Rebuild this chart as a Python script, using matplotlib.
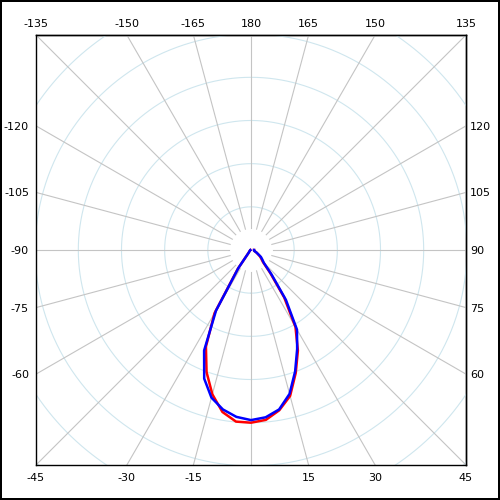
import matplotlib
matplotlib.use("Agg")
import matplotlib.pyplot as plt
import numpy as np

# ============= data (intensity per gamma angle, 0 = straight down) =============#
angles = list(range(-90, 95, 5))
red_cd = [1.6, 1.9, 1.9, 2.1, 2.3, 2.5, 2.8, 3.5, 4.6, 5.8, 9.3, 53, 169, 247, 301,
          346, 381, 399, 400, 395, 377, 350, 303, 257, 206, 134, 69, 39, 31, 25,
          18, 14, 10, 8, 7, 7, 7]
blue_cd = [1.6, 1.9, 1.9, 2.1, 2.3, 2.5, 2.8, 3.5, 4.6, 5.8, 9.3, 51, 162, 257, 317,
           354, 375, 388, 394, 389, 375, 345, 299, 253, 213, 141, 74, 42, 34, 28,
           19, 14, 10, 8, 7, 7, 7]

ring_values = [100, 200, 300, 400, 500, 600, 700]
spoke_angles = list(range(-180, 180, 15))
bottom_labels = [-45, -30, -15, 15, 30, 45]
top_labels = [-135, -150, -165, 180, 165, 150, 135]
left_labels = [-120, -105, -90, -75, -60]
right_labels = [120, 105, 90, 75, 60]

LIM = 498


def to_xy(ang, r):
    a = np.radians(np.asarray(ang, dtype=float))
    r = np.asarray(r, dtype=float)
    return r * np.sin(a), -r * np.cos(a)


fig = plt.figure(figsize=(5, 5), dpi=100)
fig.patch.set_edgecolor("black")
fig.patch.set_linewidth(1.5)
ax = fig.add_axes([0.072, 0.07, 0.86, 0.86])
ax.set_xlim(-LIM, LIM)
ax.set_ylim(-LIM, LIM)
ax.set_aspect("equal")

# grid: rings and spokes
t = np.linspace(0, 360, 721)
for rv in ring_values:
    gx, gy = to_xy(t, np.full_like(t, rv))
    ax.plot(gx, gy, color="#cfe6ee", lw=0.8, zorder=1)
for sa in spoke_angles:
    sx, sy = to_xy([sa, sa], [50, 800])
    ax.plot(sx, sy, color="#c4c4c4", lw=0.8, zorder=1)

# curves
rx, ry = to_xy(angles, red_cd)
bx, by = to_xy(angles, blue_cd)
ax.plot(rx, ry, color="red", lw=1.8, zorder=3)
ax.plot(bx, by, color="blue", lw=1.8, zorder=4)

# angle labels where spokes hit the frame
bt = np.radians(bottom_labels)
ax.set_xticks(LIM * np.tan(bt), [str(v) for v in bottom_labels])
lt = np.radians(left_labels)
ax.set_yticks(LIM / np.tan(lt), [str(v) for v in left_labels])
ax.tick_params(length=0, labelsize=8)
ax.tick_params(axis="x", pad=6)
ax.tick_params(axis="y", pad=5)

top = ax.secondary_xaxis("top")
tt = np.radians(top_labels)
top.set_xticks(-LIM * np.tan(tt), [str(v) for v in top_labels])
top.tick_params(length=0, labelsize=8, pad=4)

right = ax.secondary_yaxis("right")
rt = np.radians(right_labels)
right.set_yticks(-LIM / np.tan(rt), [str(v) for v in right_labels])
right.tick_params(length=0, labelsize=8, pad=3)

for sp in list(ax.spines.values()) + list(top.spines.values()) + list(right.spines.values()):
    sp.set_linewidth(1.0)
    sp.set_color("black")

fig.savefig("out.png", dpi=100)
